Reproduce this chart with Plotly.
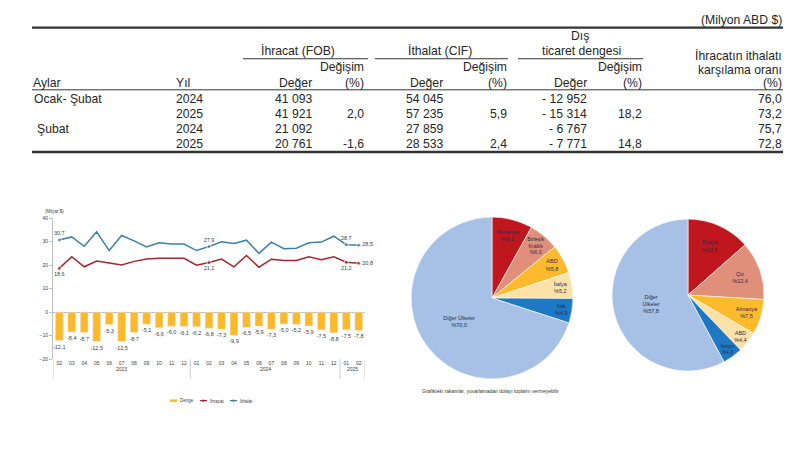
import plotly.graph_objects as go

# ---------------- Table data ----------------
periods = ["Ocak- Şubat", "", "Şubat", ""]
years = ["2024", "2025", "2024", "2025"]
exp_val = [41093, 41921, 21092, 20761]
exp_chg = [None, 2.0, None, -1.6]
imp_val = [54045, 57235, 27859, 28533]
imp_chg = [None, 5.9, None, 2.4]
bal_val = [-12952, -15314, -6767, -7771]
bal_chg = [None, 18.2, None, 14.8]
cover = [76.0, 73.2, 75.7, 72.8]

# ---------------- Monthly chart data (Milyar $) ----------------
months = ["02", "03", "04", "05", "06", "07", "08", "09", "10", "11", "12",
          "01", "02", "03", "04", "05", "06", "07", "08", "09", "10", "11", "12",
          "01", "02"]
month_years = ["2023"] * 11 + ["2024"] * 12 + ["2025"] * 2
balance = [-12.1, -8.4, -8.7, -12.5, -5.3, -12.5, -8.7, -5.1, -6.6, -6.0, -6.1,
           -6.2, -6.8, -7.3, -9.9, -6.5, -5.9, -7.3, -5.0, -5.2, -5.9, -7.5, -8.8,
           -7.5, -7.8]
exports = [18.6, 23.6, 19.3, 21.7, 20.9, 20.1, 21.6, 22.6, 22.9, 23.0, 22.9,
           20.0, 21.1, 22.6, 19.3, 24.1, 19.1, 22.5, 22.0, 22.0, 23.6, 22.3, 23.5,
           21.2, 20.8]
imports = [30.7, 32.0, 28.0, 34.2, 26.2, 32.6, 30.3, 27.7, 29.5, 29.0, 29.0,
           26.2, 27.9, 29.9, 29.2, 30.6, 25.0, 29.8, 27.0, 27.2, 29.5, 29.8, 32.3,
           28.7, 28.5]
labeled_idx = [0, 12, 23, 24]
legend_names = ["Denge", "İhracat", "İthalat"]

# ---------------- Pie data ----------------
exp_countries = ["Almanya", "Birleşik<br>Krallık", "ABD", "İtalya", "Irak", "Diğer Ülkeler"]
exp_shares = [8.1, 6.0, 5.8, 5.2, 4.9, 70.0]
imp_countries = ["Rusya", "Çin", "Almanya", "ABD", "İsviçre", "Diğer<br>Ülkeler"]
imp_shares = [13.5, 12.4, 7.5, 4.4, 4.3, 57.8]
pie_colors = ["#C0161D", "#E0907A", "#FDBA2C", "#FDE1A6", "#1F78C4", "#A6C1E5"]

W, H = 800, 450
FONT = "Liberation Sans, Arial, sans-serif"
TXT = "#262626"
BAR_C, EXP_C, IMP_C = "#FDB92A", "#A3272F", "#3F80A8"


def dec(v):
    return "" if v is None else f"{v:.1f}".replace(".", ",")


def intfmt(v):
    s = f"{abs(v):,}".replace(",", " ")
    return ("- " + s) if v < 0 else s


def px(x):
    return x / W


def py(y):
    return 1 - y / H


fig = go.Figure()

# ---------------- Chart traces ----------------
xs = list(range(len(months)))
fig.add_trace(go.Bar(
    x=xs, y=balance, name=legend_names[0], marker_color=BAR_C, width=0.62,
    text=[dec(v) for v in balance], textposition="outside", constraintext="none",
    textfont=dict(size=5.5, color="#404040", family=FONT), cliponaxis=False,
    showlegend=False, xaxis="x", yaxis="y"))


def line_trace(vals, name, color, pos):
    txt = [dec(v) if i in labeled_idx else "" for i, v in enumerate(vals)]
    sizes = [4 if i in labeled_idx else 0 for i in range(len(vals))]
    tpos = [pos] * len(vals)
    tpos[-1] = "middle right"
    return go.Scatter(
        x=xs, y=vals, name=name, mode="lines+markers+text",
        line=dict(color=color, width=1.5), marker=dict(size=sizes, color=color),
        text=txt, textposition=tpos, cliponaxis=False, showlegend=False,
        textfont=dict(size=5.5, color="#404040", family=FONT),
        xaxis="x", yaxis="y")


fig.add_trace(line_trace(exports, legend_names[1], EXP_C, "bottom center"))
fig.add_trace(line_trace(imports, legend_names[2], IMP_C, "top center"))

# ---------------- Pies ----------------


def pie_text(labels, vals):
    return [f"{l}<br>%{dec(v)}" for l, v in zip(labels, vals)]


fig.add_trace(go.Pie(
    labels=[l.replace("<br>", " ") for l in exp_countries], values=exp_shares,
    text=pie_text(exp_countries, exp_shares), textinfo="text",
    textposition="inside", insidetextorientation="horizontal",
    sort=False, direction="clockwise", rotation=0,
    marker=dict(colors=pie_colors, line=dict(color="white", width=0.6)),
    textfont=dict(size=5.5, color="#1F2F50", family=FONT),
    domain=dict(x=[px(410), px(574)], y=[py(381), py(217)]),
    showlegend=False, hoverinfo="label+percent"))

fig.add_trace(go.Pie(
    labels=[l.replace("<br>", " ") for l in imp_countries], values=imp_shares,
    text=pie_text(imp_countries, imp_shares), textinfo="text",
    textposition="inside", insidetextorientation="horizontal",
    sort=False, direction="clockwise", rotation=0,
    marker=dict(colors=pie_colors, line=dict(color="white", width=0.6)),
    textfont=dict(size=5.5, color="#1F2F50", family=FONT),
    domain=dict(x=[px(611), px(765)], y=[py(373), py(219)]),
    showlegend=False, hoverinfo="label+percent"))

annotations = []
shapes = []

# ---------------- Chart decorations ----------------
for yr in ["2023", "2024", "2025"]:
    idx = [i for i, m in enumerate(month_years) if m == yr]
    annotations.append(dict(x=(idx[0] + idx[-1]) / 2, y=py(376), xref="x", yref="paper",
                            text=yr, showarrow=False, font=dict(size=5, color="#404040", family=FONT)))
bounds = [-0.5] + [i + 0.5 for i in range(len(month_years) - 1)
                   if month_years[i] != month_years[i + 1]] + [len(month_years) - 0.5]
for b in bounds:
    shapes.append(dict(type="line", xref="x", yref="paper", x0=b, x1=b,
                       y0=py(361), y1=py(381), line=dict(color="#BFBFBF", width=0.8)))
annotations.append(dict(x=px(43), y=py(211), xref="paper", yref="paper", xanchor="left",
                        text="(Milyar $)", showarrow=False,
                        font=dict(size=4.5, color="#404040", family=FONT)))
annotations.append(dict(x=px(420), y=py(398), xref="paper", yref="paper", xanchor="left",
                        text="Grafikteki rakamlar, yuvarlamadan dolayı toplamı vermeyebilir",
                        showarrow=False, font=dict(size=5, color="#333333", family=FONT)))

# manual compact legend
leg_y = py(403)
leg_x0 = [170, 200, 230]
leg_cols = [BAR_C, EXP_C, IMP_C]
for k, (name, col) in enumerate(zip(legend_names, leg_cols)):
    x0 = leg_x0[k]
    if k == 0:
        shapes.append(dict(type="rect", xref="paper", yref="paper", x0=px(x0), x1=px(x0 + 7),
                           y0=leg_y - 1.2 / H, y1=leg_y + 1.2 / H, fillcolor=col,
                           line=dict(width=0)))
    else:
        shapes.append(dict(type="line", xref="paper", yref="paper", x0=px(x0), x1=px(x0 + 7),
                           y0=leg_y, y1=leg_y, line=dict(color=col, width=1.2)))
        shapes.append(dict(type="circle", xref="paper", yref="paper",
                           x0=px(x0 + 2.3), x1=px(x0 + 4.7), y0=leg_y - 1.2 / H,
                           y1=leg_y + 1.2 / H, fillcolor=col, line=dict(width=0)))
    annotations.append(dict(x=px(x0 + 8), y=leg_y, xref="paper", yref="paper", xanchor="left",
                            yanchor="middle", text=name, showarrow=False,
                            font=dict(size=4.5, color="#404040", family=FONT)))

# ---------------- Table ----------------


def T(text, x, y, anchor="left", size=12.2):
    annotations.append(dict(x=px(x), y=py(y), xref="paper", yref="paper", text=text,
                            xanchor=anchor, yanchor="middle", showarrow=False,
                            borderpad=0, font=dict(size=size, color=TXT, family=FONT)))


def HL(x0, x1, y, w=1.0, color="#333333"):
    shapes.append(dict(type="line", xref="paper", yref="paper", x0=px(x0), x1=px(x1),
                       y0=py(y), y1=py(y), line=dict(color=color, width=w)))


C1, C2, C3, C4, C5, C6, C7 = 313, 365, 444, 508, 588, 643, 783
T("(Milyon ABD $)", C7, 17, "right")
HL(32, 783, 25, 2.2)
T("Dış", 580, 33, "center")
T("İhracat (FOB)", 298, 49, "center")
T("İthalat (CIF)", 440, 49, "center")
T("ticaret dengesi", 581, 49, "center")
HL(243, 368, 56.5, 1)
HL(375, 508, 56.5, 1)
HL(518, 643, 56.5, 1)
T("İhracatın ithalatı", C7, 54, "right")
T("karşılama oranı", C7, 68, "right")
for xr in [C2, C4, C6]:
    T("Değişim", xr, 65, "right")
T("Aylar", 32, 81)
T("Yıl", 175, 81)
for xr in [C1, C3, C5]:
    T("Değer", xr, 81, "right")
for xr in [C2, C4, C6, C7]:
    T("(%)", xr, 81, "right")
HL(32, 783, 88, 1)
row_y = [97, 112, 127.5, 143]
for i, yy in enumerate(row_y):
    if periods[i]:
        T(periods[i], 33 if i == 0 else 36, yy)
    T(years[i], 175, yy)
    T(intfmt(exp_val[i]), C1, yy, "right")
    T(dec(exp_chg[i]), C2, yy, "right")
    T(intfmt(imp_val[i]), C3, yy, "right")
    T(dec(imp_chg[i]), C4, yy, "right")
    T(intfmt(bal_val[i]), C5, yy, "right")
    T(dec(bal_chg[i]), C6, yy, "right")
    T(dec(cover[i]), C7, yy, "right")
HL(32, 783, 151, 2.4)

fig.update_layout(
    width=W, height=H, margin=dict(l=0, r=0, t=0, b=0),
    paper_bgcolor="white", plot_bgcolor="white",
    font=dict(family=FONT, color=TXT),
    barmode="overlay", showlegend=False,
    xaxis=dict(domain=[px(53), px(365)], range=[-0.5, 24.5], tickvals=xs, ticktext=months,
               showgrid=False, zeroline=False, showline=False, ticks="",
               tickfont=dict(size=5, color="#404040"), fixedrange=True),
    yaxis=dict(domain=[py(361), py(218)], range=[-20, 40], tickvals=[-20, -10, 0, 10, 20, 30, 40],
               showgrid=False, zeroline=True, zerolinecolor="#BFBFBF", zerolinewidth=1,
               showline=True, linecolor="#BFBFBF", linewidth=0.8, ticks="outside", ticklen=3,
               tickcolor="#BFBFBF", tickfont=dict(size=5, color="#404040"), fixedrange=True),
    annotations=annotations, shapes=shapes,
)

fig.write_html("out.html", config={"displayModeBar": False},
               post_script="document.body.style.margin='0px';")
